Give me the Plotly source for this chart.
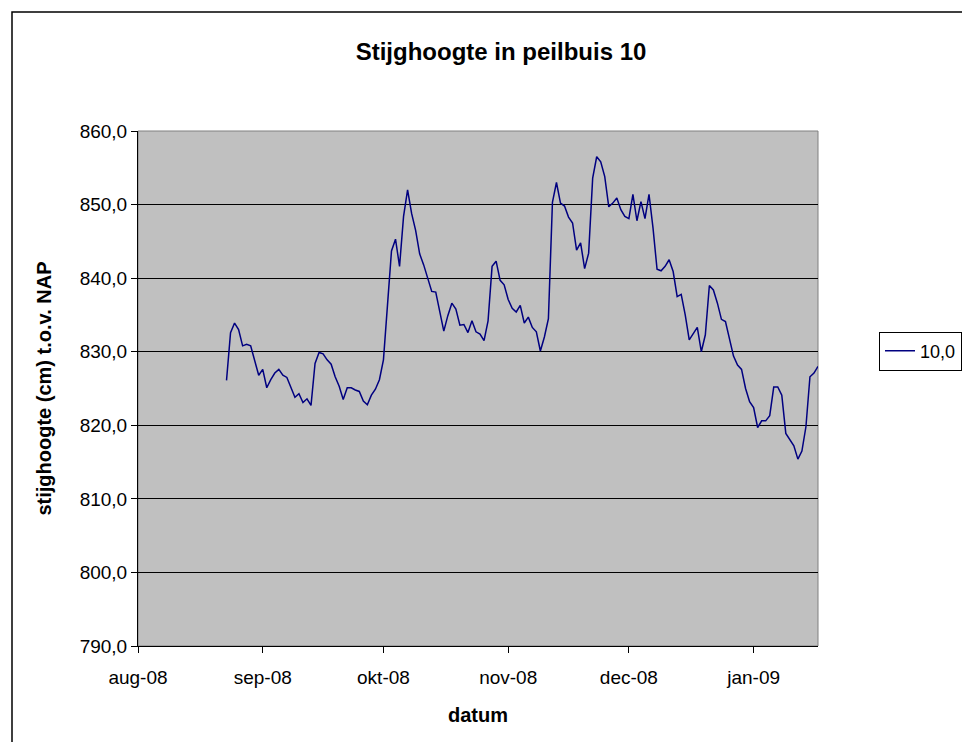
import pandas as pd
import plotly.graph_objects as go

start_date = "2008-08-23"
levels = [
    826.1, 832.6, 833.9, 833.0, 830.8, 831.0, 830.8, 828.6, 826.8, 827.6,
    825.1, 826.2, 827.1, 827.6, 826.8, 826.5, 825.2, 823.8, 824.3, 823.1,
    823.6, 822.7, 828.4, 829.9, 829.7, 828.9, 828.3, 826.6, 825.3, 823.5,
    825.1, 825.1, 824.8, 824.6, 823.3, 822.8, 824.1, 824.9, 826.2, 828.9,
    836.3, 843.7, 845.3, 841.6, 848.4, 852.0, 848.8, 846.5, 843.3, 841.8,
    840.0, 838.2, 838.1, 835.4, 832.8, 834.9, 836.6, 835.8, 833.6, 833.7,
    832.6, 834.2, 832.7, 832.4, 831.5, 834.2, 841.6, 842.3, 839.7, 839.1,
    837.1, 835.9, 835.4, 836.3, 833.9, 834.7, 833.3, 832.7, 830.1, 832.0,
    834.5, 850.3, 853.0, 850.2, 849.8, 848.3, 847.5, 843.8, 844.8, 841.3,
    843.4, 853.6, 856.5, 855.8, 853.8, 849.7, 850.2, 850.9, 849.3, 848.4,
    848.1, 851.4, 847.8, 850.4, 848.1, 851.4, 846.8, 841.2, 841.0, 841.6,
    842.5, 840.9, 837.5, 837.8, 835.0, 831.6, 832.5, 833.3, 830.0, 832.3,
    839.0, 838.4, 836.6, 834.4, 834.1, 831.8, 829.4, 828.2, 827.6, 825.0,
    823.2, 822.4, 819.7, 820.6, 820.6, 821.3, 825.2, 825.2, 824.1, 818.9,
    818.1, 817.2, 815.4, 816.5, 819.8, 826.6, 827.1, 828.0,
]
dates = pd.date_range(start_date, periods=len(levels), freq="D")

tick_dates = ["2008-08-01", "2008-09-01", "2008-10-01", "2008-11-01", "2008-12-01", "2009-01-01"]
tick_labels = ["aug-08", "sep-08", "okt-08", "nov-08", "dec-08", "jan-09"]
x_range = ["2008-08-01", "2009-01-17"]
y_ticks = [790, 800, 810, 820, 830, 840, 850, 860]

series_name = "10,0"
title_text = "Stijghoogte in peilbuis 10"
x_title = "datum"
y_title = "stijghoogte (cm) t.o.v. NAP"

# page body adds an 8px offset; work in figure coordinates
OFF = 8
W, H = 970 - OFF, 742 - OFF
L, R, T, B = 138 - OFF, 818 - OFF, 131 - OFF, 646 - OFF
pw, ph = R - L, B - T

def px(x):
    return (x - OFF - L) / pw

def py(y):
    return (B - (y - OFF)) / ph

FONT = "Liberation Sans, Arial, sans-serif"

fig = go.Figure()
fig.add_trace(go.Scatter(
    x=dates, y=levels, mode="lines", name=series_name,
    line=dict(color="#000080", width=1.5),
))

fig.update_layout(
    width=W, height=H,
    margin=dict(l=L, r=W - R, t=T, b=H - B, autoexpand=False),
    paper_bgcolor="white",
    plot_bgcolor="#C0C0C0",
    separators=",.",
    font=dict(family=FONT, size=19, color="black"),
    title=dict(text="<b>" + title_text + "</b>", xref="container",
               x=(501 - OFF) / W, xanchor="center",
               yref="container", y=1 - (52 - OFF) / H,
               yanchor="middle", font=dict(size=24, family=FONT)),
    showlegend=True,
    legend=dict(xref="container", yref="container",
                x=(879 - OFF) / W, y=1 - (351 - OFF) / H,
                xanchor="left", yanchor="middle",
                bordercolor="black", borderwidth=1, bgcolor="white",
                font=dict(size=18, family=FONT), itemwidth=30,
                tracegroupgap=0),
    xaxis=dict(
        type="date", range=x_range,
        tickvals=tick_dates, ticktext=tick_labels,
        showgrid=False, zeroline=False,
        showline=True, linecolor="black", linewidth=1,
        ticks="outside", ticklen=6, tickcolor="black",
        ticklabelstandoff=8,
        title=dict(text="<b>" + x_title + "</b>", standoff=21,
                   font=dict(size=20, family=FONT)),
        tickfont=dict(size=19, family=FONT),
    ),
    yaxis=dict(
        range=[790, 860], tickvals=y_ticks, tickformat=".1f",
        showgrid=True, gridcolor="black", gridwidth=1,
        zeroline=False,
        showline=True, linecolor="black", linewidth=1,
        ticks="outside", ticklen=6, tickcolor="black",
        title=dict(text="<b>" + y_title + "</b>", standoff=22,
                   font=dict(size=20, family=FONT)),
        tickfont=dict(size=19, family=FONT),
    ),
    shapes=[
        dict(type="rect", xref="paper", yref="paper",
             x0=0, x1=1, y0=0, y1=1,
             line=dict(color="#808080", width=1), layer="below"),
        dict(type="rect", xref="paper", yref="paper",
             x0=px(12), x1=px(1000), y0=py(770), y1=py(12),
             line=dict(color="black", width=1.5)),
    ],
)

fig.write_html("out.html")
